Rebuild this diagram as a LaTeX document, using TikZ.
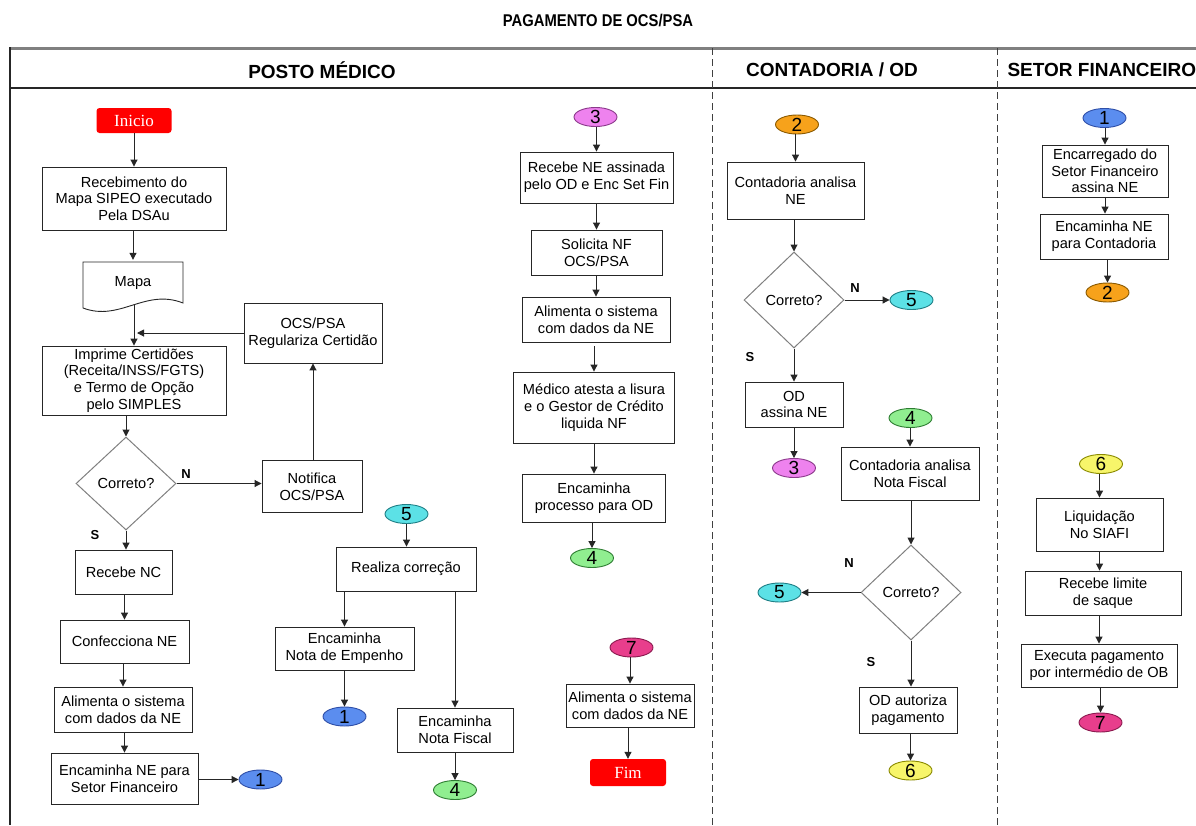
\documentclass[tikz,border=0pt]{standalone}
\usepackage{fontspec}
\newfontfamily\arial{Liberation Sans}
\newfontfamily\tnr{Liberation Serif}
\usetikzlibrary{arrows.meta,shapes.geometric}
\definecolor{termred}{HTML}{FF0000}
\definecolor{cA}{HTML}{5B8DEF}\definecolor{cAd}{HTML}{2F4FA8}
\definecolor{cB}{HTML}{F7A21B}\definecolor{cBd}{HTML}{8B5A00}
\definecolor{cC}{HTML}{EE82EE}\definecolor{cCd}{HTML}{8B3A8B}
\definecolor{cD}{HTML}{90EE90}\definecolor{cDd}{HTML}{2E7D32}
\definecolor{cE}{HTML}{5CE1E6}\definecolor{cEd}{HTML}{1F7F86}
\definecolor{cF}{HTML}{F7F56A}\definecolor{cFd}{HTML}{8A8A00}
\definecolor{cG}{HTML}{E83E8C}\definecolor{cGd}{HTML}{8B1A4F}
\begin{document}
\begin{tikzpicture}[x=1pt,y=-1pt,
  box/.style={draw=black!85, line width=0.9pt, fill=white, align=center, inner sep=1pt,
    font=\arial\fontsize{14.6}{16.7}\selectfont},
  conn/.style={ellipse, draw, line width=0.9pt, minimum width=43pt, minimum height=19pt,
    inner sep=0pt, font=\arial\fontsize{19}{19}\selectfont},
  term/.style={fill=termred, rounded corners=3pt, text=white, inner sep=0pt,
    font=\tnr\fontsize{17}{17}\selectfont},
  dec/.style={diamond, draw=gray, line width=1pt, align=center, inner sep=0pt,
    font=\arial\fontsize{14.6}{16.7}\selectfont},
  arr/.style={-{Triangle[length=7pt,width=7pt]}, line width=1pt, draw=black!85},
  lab/.style={font=\arial\bfseries\fontsize{13}{13}\selectfont},
  hdr/.style={font=\arial\bfseries\fontsize{19}{19}\selectfont},
  sep/.style={draw=black!75, line width=1pt, dash pattern=on 7pt off 4pt}
]
\useasboundingbox (0,0) rectangle (1196,825);
\fill[white] (0,0) rectangle (1196,825);

% title and header
\node (title) at (598,21) {\scalebox{0.87}[1]{\arial\bfseries\fontsize{17}{17}\selectfont PAGAMENTO DE OCS/PSA}};
\draw[gray, line width=3pt] (10,48) -- (1196,48);
\draw[black!85, line width=1.5pt] (10,88) -- (1196,88);
\draw[black!85, line width=1.5pt] (10,47) -- (10,825);
\draw[sep] (712,48) -- (712,825);
\draw[sep] (997,48) -- (997,825);
\node[hdr] (h1) at (322,70) {POSTO MÉDICO};
\node[hdr] (h2) at (832,70) {CONTADORIA / OD};
\node[hdr, anchor=west] (h3) at (1004,70) {SETOR FINANCEIRO};

% ---------- Posto Medico: left column
\node[term, minimum width=75pt, minimum height=25pt] (ini) at (134,120.5) {Inicio};
\node[box, minimum width=184pt, minimum height=63pt] (rec) at (134,198.5) {Recebimento do\\Mapa SIPEO executado\\Pela DSAu};
\node[minimum width=100pt, minimum height=46pt, inner sep=0pt, font=\arial\fontsize{14.6}{16.7}\selectfont] (mapa) at (133,283) {Mapa};
\draw[black!85, line width=0.9pt] (83,262) -- (183,262) -- (183,303) .. controls (145,288) and (120,322) .. (83,308) -- cycle;
\coordinate (mapab) at (134,305);
\node[box, minimum width=184pt, minimum height=69pt] (imp) at (134,380.5) {Imprime Certidões\\(Receita/INSS/FGTS)\\e Termo de Opção\\pelo SIMPLES};
\node[box, minimum width=138pt, minimum height=60pt] (reg) at (313,333) {OCS/PSA\\Regulariza Certidão};
\node[dec, minimum width=100pt, minimum height=93pt] (d1) at (126,483.5) {Correto?};
\node[box, minimum width=100pt, minimum height=52pt] (not) at (312,486.5) {Notifica\\OCS/PSA};
\node[box, minimum width=97pt, minimum height=44pt] (rnc) at (123.5,572) {Recebe NC};
\node[box, minimum width=129pt, minimum height=43pt] (conf) at (124.5,641.5) {Confecciona NE};
\node[box, minimum width=138pt, minimum height=45pt] (ali1) at (123,709.5) {Alimenta o sistema\\com dados da NE};
\node[box, minimum width=147pt, minimum height=51pt] (encne) at (124.5,778.5) {Encaminha NE para\\Setor Financeiro};
\node[conn, fill=cA, draw=cAd] (c1a) at (260.5,779.5) {1};
\node[lab] (n1) at (186,474) {N};
\node[lab] (s1) at (95,535) {S};

\draw[arr] (ini) -- (rec);
\draw[arr] (rec.south -| mapa.north) -- (mapa.north);
\draw[arr] (mapab) -- (imp.north);
\draw[arr] (reg.west) -- ([xshift=3pt]mapab |- reg.west);
\draw[arr] (imp.south -| d1.north) -- (d1.north);
\draw[arr] (d1.east) -- (d1.east -| not.west);
\draw[arr] (reg.south |- not.north) -- (reg.south);
\draw[arr] (d1.south) -- (d1.south |- rnc.north);
\draw[arr] (rnc.south -| conf.north) -- (conf.north);
\draw[arr] (conf.south -| ali1.north) -- (ali1.north);
\draw[arr] (ali1.south -| encne.north) -- (encne.north);
\draw[arr] (encne.east |- c1a.west) -- (c1a.west);

% ---------- Posto Medico: middle
\node[conn, fill=cE, draw=cEd] (c5a) at (406.5,514) {5};
\node[box, minimum width=140pt, minimum height=44pt] (real) at (406,569) {Realiza correção};
\node[box, minimum width=139pt, minimum height=43pt] (encemp) at (344.5,648.5) {Encaminha\\Nota de Empenho};
\node[conn, fill=cA, draw=cAd] (c1b) at (344.5,716.5) {1};
\node[box, minimum width=116pt, minimum height=44pt] (encnf) at (455,730) {Encaminha\\Nota Fiscal};
\node[conn, fill=cD, draw=cDd] (c4a) at (455,790) {4};

\draw[arr] (c5a) -- (c5a |- real.north);
\draw[arr] (real.south -| encemp.north) -- (encemp.north);
\draw[arr] (encemp) -- (c1b);
\draw[arr] (real.south -| encnf.north) -- (encnf.north);
\draw[arr] (encnf) -- (c4a);

% ---------- Posto Medico: right
\node[conn, fill=cC, draw=cCd] (c3a) at (595.5,117) {3};
\node[box, minimum width=153pt, minimum height=51pt] (rna) at (596.5,177.5) {Recebe NE assinada\\pelo OD e Enc Set Fin};
\node[box, minimum width=131pt, minimum height=45pt] (sol) at (596.5,252.5) {Solicita NF\\OCS/PSA};
\node[box, minimum width=148pt, minimum height=45pt] (ali2) at (596,319.5) {Alimenta o sistema\\com dados da NE};
\node[box, minimum width=161pt, minimum height=71pt] (med) at (594,407.5) {Médico atesta a lisura\\e o Gestor de Crédito\\liquida NF};
\node[box, minimum width=143pt, minimum height=48pt] (encod) at (594,498) {Encaminha\\processo para OD};
\node[conn, fill=cD, draw=cDd] (c4b) at (592,558) {4};
\node[conn, fill=cG, draw=cGd] (c7a) at (631.5,647.5) {7};
\node[box, minimum width=128pt, minimum height=43pt, inner sep=0pt] (ali3) at (630,705.5) {Alimenta o sistema\\com dados da NE};
\node[term, minimum width=76pt, minimum height=27pt] (fim) at (628,772.5) {Fim};

\draw[arr] (c3a.south -| rna.north) -- (rna.north);
\draw[arr] (rna.south -| sol.north) -- (sol.north);
\draw[arr] (sol.south -| ali2.north) -- (ali2.north);
\draw[arr] ([yshift=-4pt]ali2.south -| med.north) -- (med.north);
\draw[arr] (med.south -| encod.north) -- (encod.north);
\draw[arr] (encod.south -| c4b.north) -- (c4b.north);
\draw[arr] (c7a.south -| ali3.north) -- (ali3.north);
\draw[arr] (ali3.south -| fim.north) -- (fim.north);

% ---------- Contadoria / OD
\node[conn, fill=cB, draw=cBd] (c2a) at (797,124.5) {2};
\node[box, minimum width=137pt, minimum height=57pt] (can) at (795.5,190.5) {Contadoria analisa\\NE};
\node[dec, minimum width=100pt, minimum height=96pt] (d2) at (794,300) {Correto?};
\node[conn, fill=cE, draw=cEd] (c5b) at (911.5,300) {5};
\node[box, minimum width=98pt, minimum height=45pt] (odne) at (794,404.5) {OD\\assina NE};
\node[conn, fill=cC, draw=cCd] (c3b) at (794,468) {3};
\node[conn, fill=cD, draw=cDd] (c4c) at (910.5,418) {4};
\node[box, minimum width=138pt, minimum height=53pt] (cnf) at (910,473.5) {Contadoria analisa\\Nota Fiscal};
\node[dec, minimum width=100pt, minimum height=95pt] (d3) at (911,592.5) {Correto?};
\node[conn, fill=cE, draw=cEd] (c5c) at (779.5,592.5) {5};
\node[box, minimum width=98pt, minimum height=46pt] (odap) at (908,710) {OD autoriza\\pagamento};
\node[conn, fill=cF, draw=cFd] (c6a) at (910.5,770.5) {6};
\node[lab] (n2) at (855,288) {N};
\node[lab] (s2) at (750,357) {S};
\node[lab] (n3) at (849,563) {N};
\node[lab] (s3) at (871,662) {S};

\draw[arr] (c2a.south -| can.north) -- (can.north);
\draw[arr] (can.south -| d2.north) -- (d2.north);
\draw[arr] (d2.east) -- (c5b.west);
\draw[arr] (d2.south) -- (d2.south |- odne.north);
\draw[arr] (odne.south -| c3b.north) -- (c3b.north);
\draw[arr] (c4c.south -| cnf.north) -- (cnf.north);
\draw[arr] (cnf.south -| d3.north) -- (d3.north);
\draw[arr] (d3.west) -- (c5c.east);
\draw[arr] (d3.south) -- (d3.south |- odap.north);
\draw[arr] (odap.south -| c6a.north) -- (c6a.north);

% ---------- Setor Financeiro
\node[conn, fill=cA, draw=cAd] (c1c) at (1104.5,118) {1};
\node[box, minimum width=126pt, minimum height=52pt] (enc) at (1105,171) {Encarregado do\\Setor Financeiro\\assina NE};
\node[box, minimum width=128pt, minimum height=45pt] (encc) at (1104,236.5) {Encaminha NE\\para Contadoria};
\node[conn, fill=cB, draw=cBd] (c2b) at (1107.5,292.5) {2};
\node[conn, fill=cF, draw=cFd] (c6b) at (1101,464) {6};
\node[box, minimum width=127pt, minimum height=53pt] (liq) at (1099.5,524.5) {Liquidação\\No SIAFI};
\node[box, minimum width=156pt, minimum height=44pt] (rls) at (1103,593) {Recebe limite\\de saque};
\node[box, minimum width=156pt, minimum height=43pt] (exe) at (1099,665.5) {Executa pagamento\\por intermédio de OB};
\node[conn, fill=cG, draw=cGd] (c7b) at (1100.5,722.5) {7};

\draw[arr] (c1c.south -| enc.north) -- (enc.north);
\draw[arr] (enc.south) -- (enc.south |- encc.north);
\draw[arr] (encc.south -| c2b.north) -- (c2b.north);
\draw[arr] (c6b.south -| liq.north) -- (liq.north);
\draw[arr] (liq.south) -- (liq.south |- rls.north);
\draw[arr] (rls.south -| exe.north) -- (exe.north);
\draw[arr] (exe.south -| c7b.north) -- (c7b.north);
\end{tikzpicture}
\end{document}
